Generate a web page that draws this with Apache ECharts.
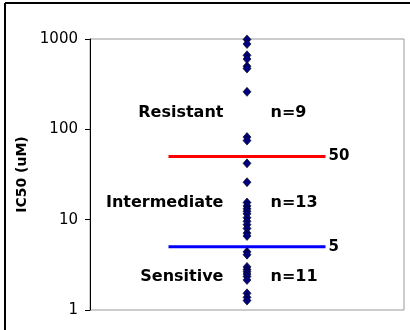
<!DOCTYPE html>
<html><head><meta charset="utf-8">
<script src="https://cdn.jsdelivr.net/npm/echarts@6/dist/echarts.min.js"></script>
<style>html,body{margin:0;padding:0;background:#fff}#c{width:410px;height:330px}</style>
</head><body><div id="c"></div>
<script>
const resistant = [990, 880, 660, 600, 500, 470, 260, 82, 75];
const intermediate = [42, 26, 15.5, 14.2, 13.2, 12.4, 11.6, 10.5, 9.6, 8.8, 8.0, 7.1, 6.6];
const sensitive = [4.4, 4.1, 3.0, 2.8, 2.65, 2.5, 2.35, 2.15, 1.53, 1.38, 1.27];
const groupNames = ['Resistant', 'Intermediate', 'Sensitive'];
const groupCounts = ['n=9', 'n=13', 'n=11'];
const groupLabelLevels = [152, 15.3, 2.32];
const thresholds = [50, 5];
const thresholdLabels = ['50', '5'];
const yTicks = [1, 10, 100, 1000];

const allValues = resistant.concat(intermediate, sensitive);
const font = 'DejaVu Sans, Verdana, sans-serif';
const chart = echarts.init(document.getElementById('c'), null, {renderer: 'canvas'});
const lineColors = ['#FF0000', '#0000FF'];

const series = [];
thresholds.forEach((t, i) => {
  series.push({
    type: 'line', data: [[0.5, t], [1.5, t]], symbol: 'none', silent: true,
    lineStyle: {color: lineColors[i], width: 3}, z: 2,
    endLabel: {show: true, formatter: thresholdLabels[i], color: '#000', fontFamily: font,
      fontWeight: 'bold', fontSize: 15, distance: 3}
  });
});
series.push({
  type: 'scatter', data: allValues.map(v => [1, v]), symbol: 'diamond', symbolSize: [8, 9],
  itemStyle: {color: '#000080', borderColor: '#000', borderWidth: 0.6, opacity: 1}, z: 5
});
const labelBase = {show: true, position: 'inside', formatter: p => p.name,
  color: '#000', fontFamily: font, fontWeight: 'bold', fontSize: 16, opacity: 1};
series.push({
  type: 'scatter', symbolSize: 0, silent: true, itemStyle: {opacity: 1},
  data: groupNames.map((n, i) => ({value: [0.85, groupLabelLevels[i]], name: n})),
  label: Object.assign({}, labelBase, {align: 'right'})
});
series.push({
  type: 'scatter', symbolSize: 0, silent: true, itemStyle: {opacity: 1},
  data: groupCounts.map((n, i) => ({value: [1.15, groupLabelLevels[i]], name: n})),
  label: Object.assign({}, labelBase, {align: 'left'})
});

chart.setOption({
  animation: false,
  grid: {left: 90, right: 6, top: 39, bottom: 20, show: true, borderColor: '#999', borderWidth: 1, backgroundColor: '#fff'},
  xAxis: {type: 'value', min: 0, max: 2, show: false},
  yAxis: {
    type: 'log', logBase: 10, min: 1, max: 1000,
    name: 'IC50 (uM)', nameLocation: 'middle', nameRotate: 90, nameGap: 60,
    nameTextStyle: {fontFamily: font, fontWeight: 'bold', fontSize: 14, color: '#000'},
    axisLine: {show: true, lineStyle: {color: '#000', width: 1}},
    axisTick: {show: true, length: 5, lineStyle: {color: '#000'}},
    axisLabel: {fontFamily: font, fontSize: 15, color: '#000', margin: 12,
      formatter: v => yTicks.indexOf(Math.round(v)) >= 0 ? String(Math.round(v)) : ''},
    splitLine: {show: false}
  },
  graphic: [
    {type: 'line', shape: {x1: 5, y1: 3, x2: 410, y2: 3}, style: {stroke: '#000', lineWidth: 2}},
    {type: 'line', shape: {x1: 5, y1: 3, x2: 5, y2: 330}, style: {stroke: '#000', lineWidth: 2}}
  ],
  series: series
});
</script></body></html>
